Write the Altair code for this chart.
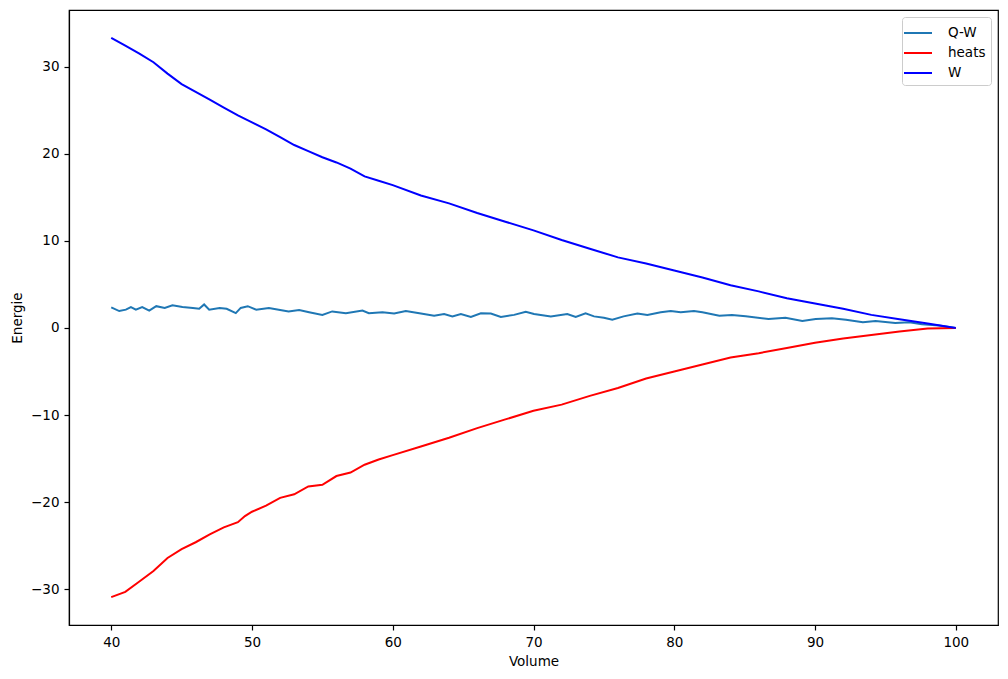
import altair as alt
import pandas as pd

# values
w_volume = [40, 41, 42, 43, 44, 45, 46, 47, 48, 49, 50, 51, 52, 53, 54, 55, 56, 57, 58, 59,
            60, 62, 64, 66, 68, 70, 72, 74, 76, 78, 80, 82, 84, 86, 88, 90, 92, 94, 96, 98, 100]
w_energy = [33.3, 32.4, 31.5, 30.5, 29.2, 28.0, 27.1, 26.2, 25.3, 24.4, 23.6, 22.8, 21.9, 21.0,
            20.3, 19.6, 19.0, 18.3, 17.4, 16.9, 16.4, 15.2, 14.3, 13.2, 12.2, 11.2, 10.1, 9.1,
            8.1, 7.4, 6.6, 5.8, 4.9, 4.2, 3.4, 2.8, 2.2, 1.5, 1.0, 0.5, 0.0]

heat_volume = [40, 41, 42, 43, 44, 45, 46, 47, 48, 49, 49.5, 50, 51, 52, 53, 54, 55, 56, 57, 58, 59,
               60, 62, 64, 66, 68, 70, 72, 74, 76, 78, 80, 82, 84, 86, 88, 90, 92, 94, 96, 98, 100]
heat_energy = [-30.9, -30.3, -29.1, -27.9, -26.4, -25.4, -24.6, -23.7, -22.9, -22.3, -21.6, -21.1,
               -20.4, -19.5, -19.1, -18.2, -18.0, -17.0, -16.6, -15.7, -15.1, -14.6, -13.6, -12.6,
               -11.5, -10.5, -9.5, -8.8, -7.8, -6.9, -5.8, -5.0, -4.2, -3.4, -2.9, -2.3, -1.7,
               -1.2, -0.8, -0.4, -0.05, 0.0]

qw_volume = [40.0, 40.57, 41.04, 41.4, 41.75, 42.2, 42.7, 43.2, 43.8, 44.35, 45.06, 45.8, 46.25,
             46.6, 46.96, 47.7, 48.2, 48.85, 49.2, 49.7, 50.3, 51.2, 51.9, 52.6, 53.35, 54.06,
             55.0, 55.7, 56.67, 57.85, 58.3, 59.27, 60.1, 60.93, 62.0, 62.94, 63.65, 64.24,
             64.84, 65.55, 66.26, 66.97, 67.68, 68.62, 69.45, 70.04, 71.23, 72.4, 73.0, 73.7,
             74.3, 75.0, 75.6, 76.4, 77.38, 78.09, 79.04, 79.75, 80.46, 81.4, 82.0, 83.2, 84.1,
             85.08, 86.7, 87.9, 89.1, 90.05, 91.2, 92.2, 93.4, 94.3, 95.7, 96.7, 97.6, 98.8, 100.0]
qw_energy = [2.37, 1.94, 2.1, 2.4, 2.1, 2.4, 2.0, 2.5, 2.3, 2.6, 2.4, 2.3, 2.2,
             2.7, 2.1, 2.3, 2.2, 1.7, 2.3, 2.5, 2.1, 2.3, 2.1, 1.9, 2.05, 1.8,
             1.5, 1.9, 1.7, 2.0, 1.7, 1.8, 1.65, 1.95, 1.65, 1.4, 1.6, 1.33,
             1.6, 1.26, 1.68, 1.65, 1.26, 1.5, 1.87, 1.6, 1.33, 1.6, 1.26, 1.68,
             1.33, 1.18, 0.95, 1.33, 1.65, 1.5, 1.8, 1.95, 1.8, 1.95, 1.8, 1.4, 1.5,
             1.34, 1.03, 1.18, 0.8, 1.03, 1.1, 0.95, 0.65, 0.8, 0.57, 0.65, 0.42, 0.27, 0.0]

series = ["Q-W", "heats", "W"]
colors = ["#1f77b4", "red", "blue"]

df = pd.concat([
    pd.DataFrame({"Volume": qw_volume, "Energie": qw_energy, "serie": "Q-W"}),
    pd.DataFrame({"Volume": heat_volume, "Energie": heat_energy, "serie": "heats"}),
    pd.DataFrame({"Volume": w_volume, "Energie": w_energy, "serie": "W"}),
], ignore_index=True)

font = "DejaVu Sans"

chart = alt.Chart(df).mark_line(strokeWidth=2).encode(
    x=alt.X("Volume:Q", scale=alt.Scale(domain=[37, 103], nice=False, zero=False),
            axis=alt.Axis(values=[40, 50, 60, 70, 80, 90, 100], title="Volume")),
    y=alt.Y("Energie:Q", scale=alt.Scale(domain=[-34.1, 36.5], nice=False, zero=False),
            axis=alt.Axis(values=[-30, -20, -10, 0, 10, 20, 30], title="Energie",
                          labelExpr="replace(format(datum.value, 'd'), '-', '\u2212')")),
    color=alt.Color("serie:N", sort=series,
                    scale=alt.Scale(domain=series, range=colors),
                    legend=alt.Legend(title=None, orient="top-right", offset=7,
                                      symbolType="M-1.4,0H1.4", symbolSize=400,
                                      symbolStrokeWidth=2, labelOffset=19,
                                      labelFontSize=13.5, labelFont=font, labelColor="black",
                                      rowPadding=2, padding=5,
                                      strokeColor="#cccccc", fillColor="white",
                                      cornerRadius=3)),
    detail="serie:N",
).properties(
    width=929,
    height=615,
    autosize=alt.AutoSizeParams(type="none"),
    padding={"left": 61, "top": 2, "right": 2, "bottom": 50},
).configure_view(
    stroke="black", strokeWidth=1.2
).configure_axis(
    grid=False, domainColor="black", domainWidth=1.2, tickColor="black", tickSize=5,
    tickWidth=1.2, labelFont=font, labelFontSize=13.5, labelColor="black",
    labelPadding=5, titleFont=font, titleFontSize=13.5, titleFontWeight="normal",
    titleColor="black"
).configure_axisX(titlePadding=6).configure_axisY(titlePadding=6)

chart.save("out.html", embed_options={"renderer": "svg", "actions": False})
